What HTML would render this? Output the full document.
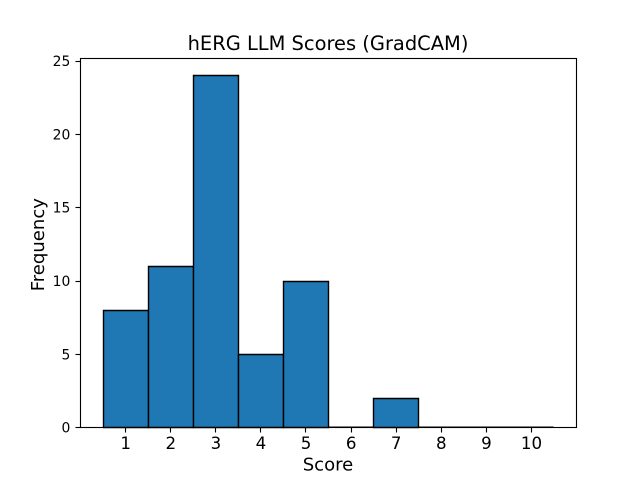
<!DOCTYPE html>
<html>
<head>
<meta charset="utf-8">
<style>
html,body{margin:0;padding:0;background:#fff;width:640px;height:480px;overflow:hidden}
svg{display:block}
text{font-family:"DejaVu Sans",sans-serif;fill:#000}
</style>
</head>
<body>
<svg id="chart" width="640" height="480" viewBox="0 0 640 480" xmlns="http://www.w3.org/2000/svg">
<rect x="0" y="0" width="640" height="480" fill="#fff"/>
<g id="bars"></g>
<g id="xticks"></g>
<g id="yticks"></g>
<rect x="80.5" y="58.5" width="496" height="369" fill="none" stroke="#000" stroke-width="1.11"/>
<text x="328" y="50" font-size="19.44" text-anchor="middle">hERG LLM Scores (GradCAM)</text>
<text x="328" y="470.5" font-size="18.06" text-anchor="middle">Score</text>
<text transform="translate(44,244.7) rotate(-90)" font-size="18.06" text-anchor="middle">Frequency</text>
</svg>
<script>
const categories = [1, 2, 3, 4, 5, 6, 7, 8, 9, 10];
const frequencies = [8, 11, 24, 5, 10, 0, 2, 0, 0, 0];
const yTickLabels = [0, 5, 10, 15, 20, 25];

const NS = 'http://www.w3.org/2000/svg';
const plotLeft = 80, plotRight = 576, plotTop = 57.6, plotBottom = 427.2;
const binLow = Math.min(...categories) - 0.5;
const binHigh = Math.max(...categories) + 0.5;
const xPad = (binHigh - binLow) * 0.05;
const xMin = binLow - xPad, xMax = binHigh + xPad;
const yMax = Math.max(...frequencies) * 1.05;
const xScale = v => plotLeft + (v - xMin) / (xMax - xMin) * (plotRight - plotLeft);
const yScale = v => plotBottom - v / yMax * (plotBottom - plotTop);
const snap = p => Math.floor(p + 0.5) + 0.5;

function make(tag, attrs, parent) {
  const el = document.createElementNS(NS, tag);
  for (const k in attrs) el.setAttribute(k, attrs[k]);
  parent.appendChild(el);
  return el;
}

const barsGroup = document.getElementById('bars');
const baseY = snap(yScale(0));
categories.forEach((c, i) => {
  const x0 = snap(xScale(c - 0.5)), x1 = snap(xScale(c + 0.5));
  const isEmpty = frequencies[i] === 0;
  const y = isEmpty ? yScale(0) : snap(yScale(frequencies[i]));
  const bottom = isEmpty ? yScale(0) : baseY;
  const d = 'M' + x0 + ' ' + bottom + 'L' + x0 + ' ' + y + 'L' + x1 + ' ' + y + 'L' + x1 + ' ' + bottom + 'Z';
  const bar = make('path', {d: d, fill: '#1f77b4', stroke: '#000', 'stroke-width': 1.39, 'stroke-linejoin': 'miter'}, barsGroup);
  
  
});

const xTicksGroup = document.getElementById('xticks');
categories.forEach(c => {
  const x = snap(xScale(c));
  const tick = make('line', {x1: x, x2: x, y1: baseY, y2: baseY + 5, stroke: '#000', 'stroke-width': 1.11}, xTicksGroup);
  
  
  const label = make('text', {x: xScale(c) + 0.6, y: plotBottom + 22, 'font-size': 16.67, 'text-anchor': 'middle'}, xTicksGroup);
  label.textContent = c;
  
  
});

const yTicksGroup = document.getElementById('yticks');
yTickLabels.forEach(v => {
  const y = snap(yScale(v));
  const tick = make('line', {x1: plotLeft - 4.5, x2: plotLeft + 0.5, y1: y, y2: y, stroke: '#000', 'stroke-width': 1.11}, yTicksGroup);
  
  
  const label = make('text', {x: plotLeft - 9.7, y: yScale(v) + 5.5, 'font-size': 13.89, 'text-anchor': 'end'}, yTicksGroup);
  label.textContent = v;
  
  
});
</script>
</body>
</html>
